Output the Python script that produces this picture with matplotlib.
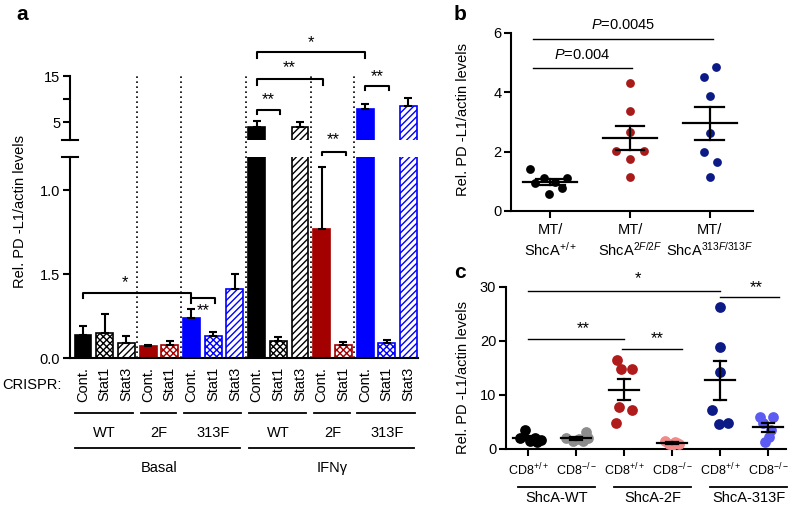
import numpy as np
import matplotlib
matplotlib.use("Agg")
import matplotlib.pyplot as plt
import matplotlib.transforms as mtrans

plt.rcParams['font.family'] = ['Liberation Sans', 'DejaVu Sans']
plt.rcParams['mathtext.fontset'] = 'custom'
plt.rcParams['mathtext.rm'] = 'Liberation Sans'
plt.rcParams['mathtext.it'] = 'Liberation Sans:italic'
plt.rcParams['hatch.linewidth'] = 1.0

# ---- data panel a ----
a_crispr = ['Cont.', 'Stat1', 'Stat3', 'Cont.', 'Stat1', 'Cont.', 'Stat1', 'Stat3',
            'Cont.', 'Stat1', 'Stat3', 'Cont.', 'Stat1', 'Cont.', 'Stat1', 'Stat3']
a_line = ['WT', 'WT', 'WT', '2F', '2F', '313F', '313F', '313F',
          'WT', 'WT', 'WT', '2F', '2F', '313F', '313F', '313F']
a_mean = [0.14, 0.15, 0.09, 0.07, 0.08, 0.24, 0.13, 0.41,
          4.0, 0.10, 4.1, 0.77, 0.08, 7.8, 0.09, 8.5]
a_err = [0.05, 0.11, 0.04, 0.01, 0.02, 0.05, 0.025, 0.09,
         1.2, 0.025, 0.9, 0.37, 0.015, 1.1, 0.02, 1.7]
a_groups = [('WT', 0, 2), ('2F', 3, 4), ('313F', 5, 7), ('WT', 8, 10), ('2F', 11, 12), ('313F', 13, 15)]
a_treat = [('Basal', 0, 7), ('IFNγ', 8, 15)]

# ---- data panel b ----
b_labels = ['MT/\nShcA$^{+/+}$', 'MT/\nShcA$^{2F/2F}$', 'MT/\nShcA$^{313F/313F}$']
b_wt = [1.41, 0.95, 1.10, 0.57, 0.99, 0.77, 1.10]
b_2f = [4.30, 3.38, 2.65, 2.03, 2.03, 1.75, 1.16]
b_313f = [4.51, 4.84, 3.89, 2.62, 2.00, 1.66, 1.13]

# ---- data panel c ----
c_labels = ['CD8$^{+/+}$', 'CD8$^{-/-}$'] * 3
c_groups = ['ShcA-WT', 'ShcA-2F', 'ShcA-313F']
c_wt_pos = [3.5, 2.0, 1.55, 2.0, 1.7, 1.25]
c_wt_neg = [2.0, 1.55, 1.8, 3.2, 2.0, 1.4]
c_2f_pos = [16.5, 14.9, 14.9, 7.8, 7.2, 4.8]
c_2f_neg = [1.5, 1.0, 0.8, 1.3, 0.9, 1.2]
c_313f_pos = [26.3, 18.9, 14.3, 7.2, 4.6, 4.9]
c_313f_neg = [6.0, 6.0, 4.9, 3.5, 2.3, 1.35]

# jitter (layout only)
b_jit = [[-0.25, -0.19, -0.08, -0.02, 0.06, 0.15, 0.21],
         [0, 0, 0, -0.17, 0.17, 0, 0],
         [-0.075, 0.075, 0, 0, -0.075, 0.083, 0]]
c_jit = [[-0.06, -0.16, 0.05, 0.15, 0.26, 0.19],
         [-0.21, -0.07, 0.07, 0.21, 0.24, 0.14],
         [-0.14, -0.07, 0.17, -0.1, 0.17, -0.17],
         [-0.14, -0.07, 0, 0.07, 0.14, 0.1],
         [0, 0, 0, -0.17, -0.03, 0.16],
         [-0.17, 0.1, -0.1, 0.07, 0.03, -0.07]]

W, H = 788, 507
fig = plt.figure(figsize=(W / 100, H / 100), dpi=100)


def box(l, t, r, b):
    return [l / W, 1 - b / H, (r - l) / W, (b - t) / H]


def fy(py):
    return 1 - py / H


line_col = {'WT': '#000000', '2F': '#a30000', '313F': '#0000ff'}
hatch_of = {'Cont.': '', 'Stat1': 'xxxxx', 'Stat3': '/////'}
FS = 10.5
SFS = 12  # star size
BREAK = 1.2

# ================= panel a =================
ax_lo = fig.add_axes(box(70, 157, 418, 358))
ax_hi = fig.add_axes(box(70, 76, 418, 140))
xa = np.arange(len(a_mean))
mean_arr = np.array(a_mean)
err_arr = np.array(a_err)
for ax in (ax_lo, ax_hi):
    ax.patch.set_visible(False)
    for i in xa:
        c = line_col[a_line[i]]
        h = hatch_of[a_crispr[i]]
        ax.bar(i, a_mean[i], width=0.78, color=c if h == '' else 'white',
               edgecolor=c, hatch=h, linewidth=1.2, zorder=2)
    # only draw each error bar in the segment where its top lies
    if ax is ax_lo:
        sel = mean_arr + err_arr < BREAK
    else:
        sel = mean_arr > BREAK
    ax.errorbar(xa[sel], mean_arr[sel], yerr=[np.zeros(sel.sum()), err_arr[sel]],
                fmt='none', ecolor='black', elinewidth=1.5, capsize=3, capthick=1.5,
                zorder=3)
    ax.set_xlim(-0.6, 15.44)
    for s in ('top', 'right'):
        ax.spines[s].set_visible(False)
    ax.spines['left'].set_linewidth(1.5)
    ax.tick_params(axis='y', direction='out', length=5, width=1.5, labelsize=FS, pad=2)
    ax.set_xticks([])

ax_hi.spines['bottom'].set_visible(False)
ax_lo.spines['bottom'].set_linewidth(1.5)
ax_lo.set_ylim(0, BREAK)
ax_hi.set_ylim(BREAK, 15)
ax_lo.set_yticks([0, 0.5, 1.0], ['0.0', '1.5', '1.0'])
ax_hi.set_yticks([5, 10, 15], ['5', '', '15'])

# break caps
ax_lo.plot([-0.95, -0.25], [BREAK, BREAK], color='black', lw=1.5, clip_on=False)
ax_hi.plot([-0.95, -0.25], [BREAK, BREAK], color='black', lw=1.5, clip_on=False)

# dotted separators
for xs in [2.5, 4.5, 7.5, 10.5, 12.5]:
    ax_lo.plot([xs, xs], [0, BREAK + 81 / 168], color='black', lw=1.2, ls=(0, (1, 2)),
               clip_on=False, zorder=1)


def bracket(ax, x1, x2, y, drop, text, ty, tx=None):
    ax.plot([x1, x1, x2, x2], [y - drop, y, y, y - drop], color='black', lw=1.5,
            clip_on=False, zorder=4)
    ax.text((x1 + x2) / 2 if tx is None else tx, ty, text, ha='center', va='center',
            fontsize=SFS, clip_on=False)


bracket(ax_lo, 0, 5, 0.39, 0.03, '*', 0.45, tx=1.95)
bracket(ax_lo, 5, 6.1, 0.36, 0.03, '**', 0.28, tx=5.55)
bracket(ax_hi, 8, 9.1, 7.67, 0.85, '**', 9.8)
bracket(ax_hi, 8, 11.05, 14.35, 1.3, '**', 16.7)
bracket(ax_hi, 8, 13, 20.2, 1.3, '*', 22.3)
bracket(ax_lo, 11, 12.1, 1.232, 0.018, '**', 1.305)
bracket(ax_hi, 13, 14.1, 12.8, 0.8, '**', 14.9)

# category labels under panel a
tr = mtrans.blended_transform_factory(ax_lo.transData, fig.transFigure)
fig.text(2 / W, fy(385), 'CRISPR:', ha='left', va='center', fontsize=FS)
for i in xa:
    ax_lo.text(i, fy(367), a_crispr[i], transform=tr, rotation=90, ha='center',
               va='top', fontsize=FS)
for name, i0, i1 in a_groups:
    ax_lo.plot([i0 - 0.35, i1 + 0.3], [fy(413)] * 2, transform=tr, color='black',
               lw=1.3, clip_on=False)
    ax_lo.text((i0 + i1) / 2, fy(433), name, transform=tr, ha='center', va='center',
               fontsize=FS)
for name, i0, i1 in a_treat:
    ax_lo.plot([i0 - 0.35, i1 + 0.25], [fy(448)] * 2, transform=tr, color='black',
               lw=1.3, clip_on=False)
    ax_lo.text((i0 + i1) / 2, fy(468), name, transform=tr, ha='center', va='center',
               fontsize=FS)

fig.text(20 / W, fy(212), 'Rel. PD -L1/actin levels', rotation=90, ha='center',
         va='center', fontsize=FS)
fig.text(22 / W, fy(15), 'a', fontsize=15, fontweight='bold', ha='center', va='center')


# ================= helpers for dot plots =================
def dot_group(ax, x, vals, jit, color, s, mw, cw):
    vals = np.asarray(vals)
    ax.scatter(x + np.asarray(jit), vals, s=s, color=color, zorder=3, linewidths=0)
    m = vals.mean()
    se = vals.std(ddof=1) / np.sqrt(len(vals))
    ax.plot([x - mw / 2, x + mw / 2], [m, m], color='black', lw=1.6, zorder=4)
    ax.plot([x, x], [m - se, m + se], color='black', lw=1.6, zorder=4)
    for yy in (m - se, m + se):
        ax.plot([x - cw / 2, x + cw / 2], [yy, yy], color='black', lw=1.6, zorder=4)


def style_dot_axes(ax):
    for s in ('top', 'right'):
        ax.spines[s].set_visible(False)
    for s in ('left', 'bottom'):
        ax.spines[s].set_linewidth(1.5)
    ax.tick_params(direction='out', length=5, width=1.5, labelsize=FS, pad=2)


# ================= panel b =================
ax_b = fig.add_axes(box(511, 33, 753, 211))
b_sets = [b_wt, b_2f, b_313f]
b_cols = ['#000000', '#a81b1b', '#0c1a86']
for k in range(3):
    dot_group(ax_b, k, b_sets[k], b_jit[k], b_cols[k], 40, 0.68, 0.36)
ax_b.set_xlim(-0.49, 2.54)
ax_b.set_ylim(0, 6)
ax_b.set_yticks([0, 2, 4, 6])
ax_b.set_xticks(range(3), b_labels)
style_dot_axes(ax_b)
ax_b.tick_params(axis='x', pad=4)
for x1, x2, y, t, ty in [(-0.22, 1.03, 4.82, '$P$=0.004', 5.25), (-0.22, 2.04, 5.8, '$P$=0.0045', 6.27)]:
    ax_b.plot([x1, x2], [y, y], color='black', lw=1.0, clip_on=False)
    ax_b.text((x1 + x2) / 2, ty, t, ha='center', va='center', fontsize=FS, clip_on=False)
fig.text(463 / W, fy(120), 'Rel. PD -L1/actin levels', rotation=90, ha='center',
         va='center', fontsize=FS)
fig.text(460 / W, fy(15), 'b', fontsize=15, fontweight='bold', ha='center', va='center')

# ================= panel c =================
ax_c = fig.add_axes(box(506, 287, 786, 449))
c_sets = [c_wt_pos, c_wt_neg, c_2f_pos, c_2f_neg, c_313f_pos, c_313f_neg]
c_cols = ['#000000', '#8c8c8c', '#b01c1c', '#f28a8a', '#0c1a86', '#5c5cf2']
for k in range(6):
    dot_group(ax_c, k, c_sets[k], c_jit[k], c_cols[k], 60, 0.62, 0.26)
ax_c.set_xlim(-0.46, 5.375)
ax_c.set_ylim(0, 30)
ax_c.set_yticks([0, 10, 20, 30])
ax_c.set_xticks(range(6), c_labels)
style_dot_axes(ax_c)
ax_c.tick_params(axis='x', pad=4, labelsize=9)
for x1, x2, y, t, tx, ty in [(0, 4, 29.3, '*', 2.3, 31.5),
                             (0, 2, 20.4, '**', 1.15, 22.2),
                             (1.95, 3.2, 18.6, '**', 2.7, 20.4),
                             (4, 5.23, 28.2, '**', 4.75, 29.9)]:
    ax_c.plot([x1, x2], [y, y], color='black', lw=1.0, clip_on=False)
    ax_c.text(tx, ty, t, ha='center', va='center', fontsize=SFS, clip_on=False)
trc = mtrans.blended_transform_factory(ax_c.transData, fig.transFigure)
for k, name in enumerate(c_groups):
    ax_c.plot([2 * k - 0.2, 2 * k + 1.4], [fy(487)] * 2, transform=trc, color='black',
              lw=1.3, clip_on=False)
    ax_c.text(2 * k + 0.6, fy(498), name, transform=trc, ha='center', va='center',
              fontsize=FS)
fig.text(463 / W, fy(377), 'Rel. PD -L1/actin levels', rotation=90, ha='center',
         va='center', fontsize=FS)
fig.text(460 / W, fy(273), 'c', fontsize=15, fontweight='bold', ha='center', va='center')

fig.savefig('out.png', dpi=100)
